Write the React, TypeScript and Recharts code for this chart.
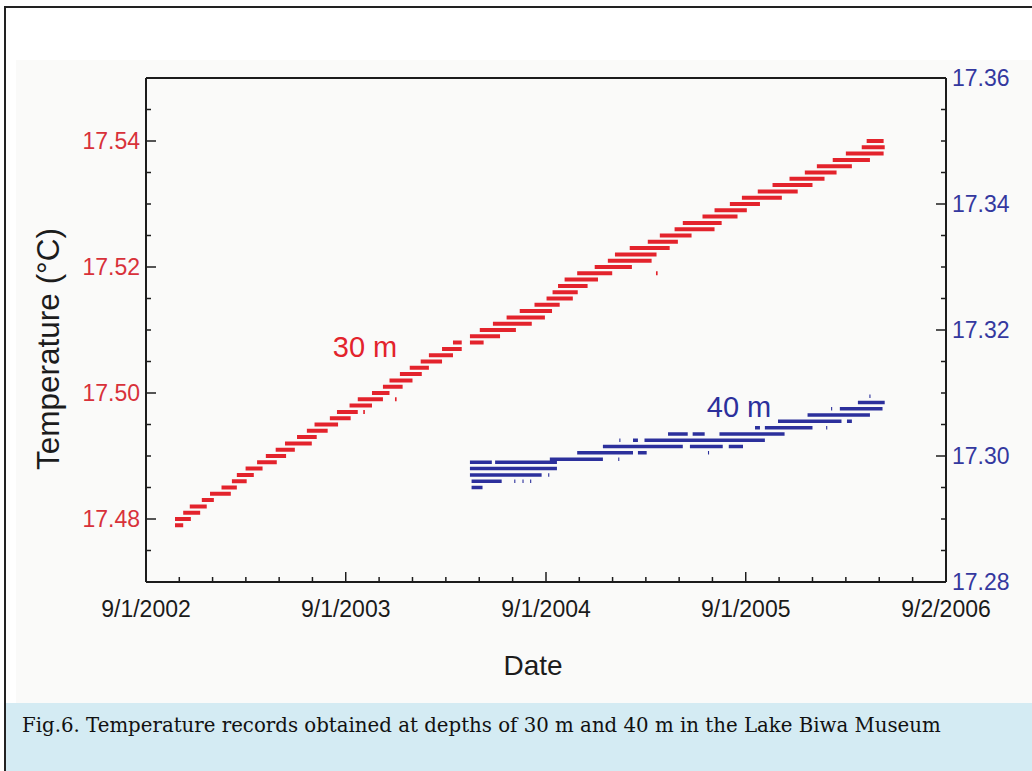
import React from "react";
import { ComposedChart, Line, XAxis, YAxis } from "recharts";

// Each logged level is drawn as a flat dash: [from, to, temperature °C]
type Dash = [string, string, number];

const dashes30m: Dash[] = [
  ["2002-10-24", "2002-11-08", 17.479],
  ["2002-10-24", "2002-11-22", 17.48],
  ["2002-11-08", "2002-12-09", 17.481],
  ["2002-11-20", "2002-12-21", 17.482],
  ["2002-12-12", "2003-01-03", 17.483],
  ["2002-12-27", "2003-02-03", 17.484],
  ["2003-01-17", "2003-02-14", 17.485],
  ["2003-02-05", "2003-03-04", 17.486],
  ["2003-02-14", "2003-03-17", 17.487],
  ["2003-03-02", "2003-04-02", 17.488],
  ["2003-03-23", "2003-04-28", 17.489],
  ["2003-04-08", "2003-05-15", 17.49],
  ["2003-04-26", "2003-05-31", 17.491],
  ["2003-05-13", "2003-07-01", 17.492],
  ["2003-06-04", "2003-07-10", 17.493],
  ["2003-06-22", "2003-07-30", 17.494],
  ["2003-07-06", "2003-08-18", 17.495],
  ["2003-08-03", "2003-09-10", 17.496],
  ["2003-08-16", "2003-09-23", 17.497],
  ["2003-10-03", "2003-10-06", 17.497],
  ["2003-09-08", "2003-10-19", 17.498],
  ["2003-09-23", "2003-11-08", 17.499],
  ["2003-11-30", "2003-12-03", 17.499],
  ["2003-10-19", "2003-11-20", 17.5],
  ["2003-11-08", "2003-12-14", 17.501],
  ["2003-11-20", "2004-01-01", 17.502],
  ["2003-12-09", "2004-01-18", 17.503],
  ["2003-12-27", "2004-01-31", 17.504],
  ["2004-01-16", "2004-02-24", 17.505],
  ["2004-01-31", "2004-03-15", 17.506],
  ["2004-02-24", "2004-03-31", 17.507],
  ["2004-03-15", "2004-03-31", 17.508],
  ["2004-04-15", "2004-05-10", 17.508],
  ["2004-04-15", "2004-06-09", 17.509],
  ["2004-05-03", "2004-07-08", 17.51],
  ["2004-05-27", "2004-08-06", 17.511],
  ["2004-06-21", "2004-08-30", 17.512],
  ["2004-07-15", "2004-09-12", 17.513],
  ["2004-08-11", "2004-09-26", 17.514],
  ["2004-09-02", "2004-10-20", 17.515],
  ["2004-09-13", "2004-10-29", 17.516],
  ["2004-09-23", "2004-11-16", 17.517],
  ["2004-10-05", "2004-12-05", 17.518],
  ["2004-10-28", "2004-12-31", 17.519],
  ["2005-03-21", "2005-03-24", 17.519],
  ["2004-11-29", "2005-02-05", 17.52],
  ["2004-12-23", "2005-03-13", 17.521],
  ["2005-01-05", "2005-03-22", 17.522],
  ["2005-02-01", "2005-04-15", 17.523],
  ["2005-03-06", "2005-04-30", 17.524],
  ["2005-03-28", "2005-05-25", 17.525],
  ["2005-04-24", "2005-07-06", 17.526],
  ["2005-05-09", "2005-07-19", 17.527],
  ["2005-06-14", "2005-08-17", 17.528],
  ["2005-07-06", "2005-09-03", 17.529],
  ["2005-08-03", "2005-09-27", 17.53],
  ["2005-08-25", "2005-11-06", 17.531],
  ["2005-09-23", "2005-12-05", 17.532],
  ["2005-10-20", "2006-01-01", 17.533],
  ["2005-11-20", "2006-01-23", 17.534],
  ["2005-12-18", "2006-02-14", 17.535],
  ["2006-01-09", "2006-03-14", 17.536],
  ["2006-02-07", "2006-04-16", 17.537],
  ["2006-03-03", "2006-05-11", 17.538],
  ["2006-04-01", "2006-05-13", 17.539],
  ["2006-04-10", "2006-05-11", 17.54],
];

const dashes40m: Dash[] = [
  ["2004-04-18", "2004-05-08", 17.295],
  ["2004-04-18", "2004-06-12", 17.296],
  ["2004-07-05", "2004-07-07", 17.296],
  ["2004-07-20", "2004-07-22", 17.296],
  ["2004-08-03", "2004-08-05", 17.296],
  ["2004-04-15", "2004-08-24", 17.297],
  ["2004-09-05", "2004-09-07", 17.297],
  ["2004-04-15", "2004-09-21", 17.298],
  ["2004-04-15", "2004-05-25", 17.299],
  ["2004-05-31", "2004-09-21", 17.299],
  ["2004-09-08", "2004-12-14", 17.2995],
  ["2005-01-11", "2005-01-13", 17.2995],
  ["2004-10-28", "2005-02-07", 17.3005],
  ["2005-02-16", "2005-03-04", 17.3005],
  ["2005-06-24", "2005-06-26", 17.3005],
  ["2004-12-14", "2005-05-09", 17.3015],
  ["2005-05-22", "2005-07-21", 17.3015],
  ["2005-08-01", "2005-08-27", 17.3015],
  ["2005-01-13", "2005-01-15", 17.3025],
  ["2005-02-07", "2005-02-16", 17.3025],
  ["2005-02-28", "2005-10-06", 17.3025],
  ["2005-04-12", "2005-05-18", 17.3035],
  ["2005-05-27", "2005-06-18", 17.3035],
  ["2005-07-15", "2005-11-11", 17.3035],
  ["2005-09-18", "2005-09-27", 17.3045],
  ["2005-10-06", "2006-01-01", 17.3045],
  ["2006-01-26", "2006-01-28", 17.3045],
  ["2005-10-30", "2006-02-23", 17.3055],
  ["2006-03-05", "2006-03-14", 17.3055],
  ["2005-12-23", "2006-04-16", 17.3065],
  ["2006-02-04", "2006-02-06", 17.3075],
  ["2006-02-20", "2006-05-09", 17.3075],
  ["2006-03-25", "2006-05-13", 17.3085],
  ["2006-04-15", "2006-04-17", 17.3095],
];

const dateTicks = ["9/1/2002", "9/1/2003", "9/1/2004", "9/1/2005", "9/2/2006"];
const leftTicks = [17.48, 17.5, 17.52, 17.54];
const rightTicks = [17.28, 17.3, 17.32, 17.34, 17.36];
const leftDomain: [number, number] = [17.47, 17.55];
const rightDomain: [number, number] = [17.28, 17.36];

const SANS = "'Liberation Sans', Arial, Helvetica, sans-serif";
const RED = "#e3232c";
const BLUE = "#2c309c";
const AXIS = "#1c1c1c";

const parseUS = (s: string) => {
  const [m, d, y] = s.split("/").map(Number);
  return Date.UTC(y, m - 1, d);
};

const majorX = dateTicks.map(parseUS);
const xLabel = new Map(majorX.map((t, i) => [t, dateTicks[i]]));
// six sub-divisions between labelled dates
const allX: number[] = [];
majorX.forEach((t, i) => {
  if (i === majorX.length - 1) {
    allX.push(t);
    return;
  }
  const next = majorX[i + 1];
  for (let k = 0; k < 6; k++) allX.push(t + ((next - t) * k) / 6);
});

const steps = (lo: number, hi: number) => {
  const out: number[] = [];
  const n = Math.round((hi - lo) / 0.005);
  for (let i = 0; i <= n; i++) out.push(+(lo + i * 0.005).toFixed(3));
  return out;
};
const leftAll = steps(leftDomain[0], leftDomain[1]);
const rightAll = steps(rightDomain[0], rightDomain[1]);
const isIn = (list: number[], v: number) => list.some((t) => Math.abs(t - v) < 1e-6);

const toSegments = (dashes: Dash[]) =>
  dashes.flatMap(([a, b, v]) => [
    { t: Date.parse(a), v },
    { t: Date.parse(b), v },
    { t: Date.parse(b), v: null },
  ]);

const data30 = toSegments(dashes30m);
const data40 = toSegments(dashes40m);

function LeftTick({ x, y, payload }: any) {
  const major = isIn(leftTicks, payload.value);
  return (
    <g>
      <line x1={x} x2={x + (major ? 10 : 5)} y1={y} y2={y} stroke={AXIS} strokeWidth={1.5} />
      {major && (
        <text x={x - 6} y={y} dy="0.36em" textAnchor="end" fill="#d8313a" fontSize={23} fontFamily={SANS}>
          {payload.value.toFixed(2)}
        </text>
      )}
    </g>
  );
}

function RightTick({ x, y, payload }: any) {
  const major = isIn(rightTicks, payload.value);
  return (
    <g>
      <line x1={x} x2={x - (major ? 10 : 5)} y1={y} y2={y} stroke={AXIS} strokeWidth={1.5} />
      {major && (
        <text x={x + 6} y={y} dy="0.36em" textAnchor="start" fill="#34389f" fontSize={23} fontFamily={SANS}>
          {payload.value.toFixed(2)}
        </text>
      )}
    </g>
  );
}

function BottomTick({ x, y, payload }: any) {
  const label = xLabel.get(payload.value);
  return (
    <g>
      <line x1={x} x2={x} y1={y} y2={y - (label ? 10 : 5)} stroke={AXIS} strokeWidth={1.5} />
      {label && (
        <text x={x} y={y + 35} textAnchor="middle" fill="#1a1a1a" fontSize={23} fontFamily={SANS}>
          {label}
        </text>
      )}
    </g>
  );
}

function TopTick({ x, y, payload }: any) {
  const major = xLabel.has(payload.value);
  return <line x1={x} x2={x} y1={y} y2={y + (major ? 10 : 5)} stroke={AXIS} strokeWidth={1.5} />;
}

export default function App() {
  return (
    <div
      style={{
        position: "absolute",
        left: 0,
        top: 0,
        width: 1032,
        height: 771,
        overflow: "hidden",
        background: "#fff",
      }}
    >
      <div
        style={{
          position: "absolute",
          left: 4,
          top: 6,
          width: 1100,
          height: 800,
          borderTop: "2px solid #222",
          borderLeft: "2px solid #222",
        }}
      />
      <div style={{ position: "absolute", left: 16, top: 60, width: 1016, height: 643, background: "#fafaf9" }} />
      <div
        style={{
          position: "absolute",
          left: 6,
          top: 703,
          width: 1026,
          height: 68,
          background: "#d4ebf3",
          fontFamily: "'DejaVu Serif', 'Liberation Serif', serif",
          fontSize: 19.75,
          color: "#111",
        }}
      >
        <div style={{ position: "absolute", left: 16, top: 10, lineHeight: "26px", whiteSpace: "nowrap" }}>
          Fig.6. Temperature records obtained at depths of 30 m and 40 m in the Lake Biwa Museum
        </div>
      </div>

      <div style={{ position: "absolute", left: 0, top: 0 }}>
        <ComposedChart width={1032} height={700} margin={{ top: 77, right: 16, bottom: 0, left: 0 }}>
          <XAxis
            xAxisId="date"
            dataKey="t"
            type="number"
            domain={[majorX[0], majorX[majorX.length - 1]]}
            ticks={allX}
            interval={0}
            height={118}
            tickSize={0}
            tickMargin={0}
            tickLine={false}
            axisLine={{ stroke: AXIS, strokeWidth: 2 }}
            tick={<BottomTick />}
          />
          <XAxis
            xAxisId="top"
            orientation="top"
            dataKey="t"
            type="number"
            domain={[majorX[0], majorX[majorX.length - 1]]}
            ticks={allX}
            interval={0}
            height={1}
            tickSize={0}
            tickMargin={0}
            tickLine={false}
            axisLine={{ stroke: AXIS, strokeWidth: 2 }}
            tick={<TopTick />}
          />
          <YAxis
            yAxisId="left"
            dataKey="v"
            type="number"
            domain={leftDomain}
            ticks={leftAll}
            interval={0}
            width={146}
            tickSize={0}
            tickMargin={0}
            tickLine={false}
            axisLine={{ stroke: AXIS, strokeWidth: 2 }}
            tick={<LeftTick />}
          />
          <YAxis
            yAxisId="right"
            orientation="right"
            dataKey="v"
            type="number"
            domain={rightDomain}
            ticks={rightAll}
            interval={0}
            width={70}
            tickSize={0}
            tickMargin={0}
            tickLine={false}
            axisLine={{ stroke: AXIS, strokeWidth: 2 }}
            tick={<RightTick />}
          />
          <Line
            data={data30}
            xAxisId="date"
            yAxisId="left"
            dataKey="v"
            stroke={RED}
            strokeWidth={4}
            dot={false}
            activeDot={false}
            isAnimationActive={false}
          />
          <Line
            data={data40}
            xAxisId="date"
            yAxisId="right"
            dataKey="v"
            stroke={BLUE}
            strokeWidth={3.5}
            dot={false}
            activeDot={false}
            isAnimationActive={false}
          />
        </ComposedChart>
      </div>

      <svg
        width={1032}
        height={771}
        style={{ position: "absolute", left: 0, top: 0, pointerEvents: "none" }}
        fontFamily={SANS}
      >
        <text x={48} y={349} transform="rotate(-90 48 349)" textAnchor="middle" dominantBaseline="central" fontSize={31.5} fill="#1c1c1c">
          Temperature (°C)
        </text>
        <text x={533} y={665} textAnchor="middle" dominantBaseline="central" fontSize={28} fill="#1c1c1c">
          Date
        </text>
        <text x={365} y={347} textAnchor="middle" dominantBaseline="central" fontSize={29} fill={RED}>
          30 m
        </text>
        <text x={739} y={407} textAnchor="middle" dominantBaseline="central" fontSize={29} fill={BLUE}>
          40 m
        </text>
      </svg>
    </div>
  );
}
